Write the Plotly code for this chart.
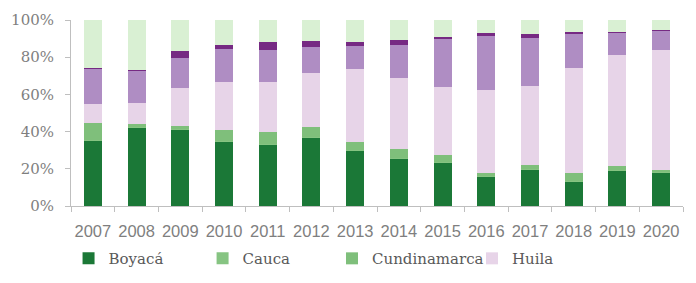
import plotly.graph_objects as go

years = ["2007", "2008", "2009", "2010", "2011", "2012", "2013",
         "2014", "2015", "2016", "2017", "2018", "2019", "2020"]

boyaca = [35.3, 42.1, 41.0, 34.6, 33.0, 36.9, 29.7, 25.4, 23.3, 15.9, 19.7, 13.3, 19.0, 17.9]
cauca = [0.4, 0.3, 0.3, 0.4, 0.4, 0.4, 0.4, 0.4, 0.4, 0.3, 0.3, 0.4, 0.3, 0.3]
cundinamarca = [8.7, 1.7, 1.5, 5.9, 6.2, 5.2, 4.5, 4.8, 3.5, 1.4, 2.0, 3.9, 2.2, 1.2]
huila = [10.3, 11.5, 20.8, 25.9, 27.2, 28.8, 38.9, 38.2, 37.0, 44.6, 42.5, 56.4, 59.9, 64.5]
narino = [19.0, 17.3, 16.0, 17.4, 17.1, 14.0, 12.5, 17.6, 25.4, 29.0, 25.8, 18.3, 12.1, 10.4]
santander = [0.7, 0.3, 3.6, 2.4, 4.1, 3.4, 2.4, 2.7, 1.4, 1.8, 2.0, 1.4, 0.2, 0.1]
tolima = [25.6, 26.8, 16.8, 13.4, 12.0, 11.3, 11.6, 10.9, 9.0, 7.0, 7.7, 6.3, 6.3, 5.6]

# name, values, colour, legend id (None = not in legend)
series = [
    ("Boyacá", boyaca, "#1b7837", "legend"),
    ("Cauca", cauca, "#86c482", "legend2"),
    ("Cundinamarca", cundinamarca, "#7fbf7b", "legend3"),
    ("Huila", huila, "#e7d4e8", "legend4"),
    ("Nariño", narino, "#af8dc3", None),
    ("Santander", santander, "#762a83", None),
    ("Tolima", tolima, "#d9f0d3", None),
]

fig = go.Figure()
for name, vals, color, leg in series:
    fig.add_trace(go.Bar(x=years, y=vals, name=name, marker_color=color,
                         marker_line_width=0, showlegend=leg is not None,
                         legend=leg if leg else "legend"))

serif = "DejaVu Serif"
sans = "Liberation Sans"
leg_font = dict(family=serif, size=15, color="#595959")
leg_common = dict(orientation="h", xanchor="left", y=-0.194, yanchor="top",
                  font=leg_font, bgcolor="rgba(0,0,0,0)")

fig.update_layout(
    width=696, height=283,
    barmode="stack", bargap=0.59,
    paper_bgcolor="white", plot_bgcolor="white",
    margin=dict(l=71, r=13, t=20, b=77, autoexpand=False),
    font=dict(family=serif, size=15, color="#7f7f7f"),
    legend=dict(x=-0.004, **leg_common),
    legend2=dict(x=0.215, **leg_common),
    legend3=dict(x=0.4265, **leg_common),
    legend4=dict(x=0.6552, **leg_common),
    xaxis=dict(showline=True, linecolor="#bfbfbf", linewidth=1,
               ticks="outside", tickson="boundaries", ticklen=5, tickcolor="#bfbfbf",
               tickangle=0, ticklabelstandoff=10,
               tickfont=dict(family=sans, size=16.5, color="#7f7f7f"),
               showgrid=False),
    yaxis=dict(range=[0, 100], dtick=20, ticksuffix="%", showline=True,
               linecolor="#bfbfbf", linewidth=1, ticks="outside", ticklen=5,
               tickcolor="#bfbfbf", showgrid=False, zeroline=False,
               ticklabelstandoff=8,
               tickfont=dict(family=serif, size=15, color="#7f7f7f")),
)

fig.write_html("out.html", config={"displayModeBar": False},
               post_script="document.body.style.margin='0';document.body.style.padding='0';")
